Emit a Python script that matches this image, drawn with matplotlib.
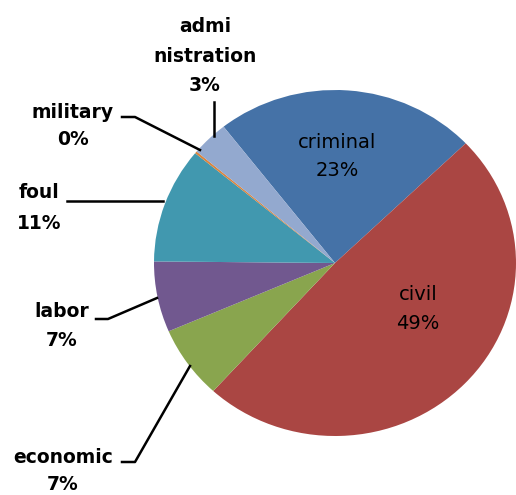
import matplotlib
matplotlib.use("Agg")
import matplotlib.pyplot as plt

categories = ["criminal", "civil", "economic", "labor", "foul", "military", "admi\nnistration"]
values = [23.4, 48.9, 6.8, 6.6, 10.8, 0.2, 3.3]
colors = ["#4572A7", "#AA4643", "#89A54E", "#71588F", "#4198AF", "#DB843D", "#93A9CF"]

W, H = 516, 495
fig = plt.figure(figsize=(W / 100, H / 100), dpi=100)
ax = fig.add_axes([0, 0, 1, 1])
ax.pie(values, colors=colors, startangle=128, counterclock=False,
       wedgeprops=dict(linewidth=0))
ax.set_aspect("auto")
cx, cy, rx, ry = 335, 263, 181, 173
ax.set_xlim(-cx / rx, (W - cx) / rx)
ax.set_ylim(-(H - cy) / ry, cy / ry)
ax.axis("off")

def fx(x):
    return x / W

def fy(y):
    return 1 - y / H

labels = [f"{c}\n{round(v)}%" for c, v in zip(categories, values)]
font = ["DejaVu Sans"]

# label positions (pixel centres), weight, size, line spacing
pos = {
    0: (337, 157, "normal", 14, 1.6),
    1: (418, 309, "normal", 14, 1.7),
    2: (63, 471, "bold", 13.5, 1.55),
    3: (62, 326, "bold", 13.5, 1.7),
    4: (39, 208, "bold", 13.5, 1.75),
    5: (73, 126, "bold", 13.5, 1.55),
    6: (205, 56, "bold", 13.5, 1.68),
}
for i, (x, y, w, s, ls) in pos.items():
    fig.text(fx(x), fy(y), labels[i], ha="center", va="center", fontsize=s,
             fontweight=w, family=font, linespacing=ls, color="black")

# leader lines
leaders = [
    [(214, 102), (214, 136)],
    [(122, 117), (135, 117), (200, 150)],
    [(67, 201), (163, 201)],
    [(96, 319), (108, 319), (157, 298)],
    [(122, 462), (135, 462), (190, 366)],
]
for pts in leaders:
    xs = [fx(p[0]) for p in pts]
    ys = [fy(p[1]) for p in pts]
    fig.add_artist(plt.Line2D(xs, ys, color="black", linewidth=1.8,
                              transform=fig.transFigure))

fig.savefig("out.png", dpi=100)
